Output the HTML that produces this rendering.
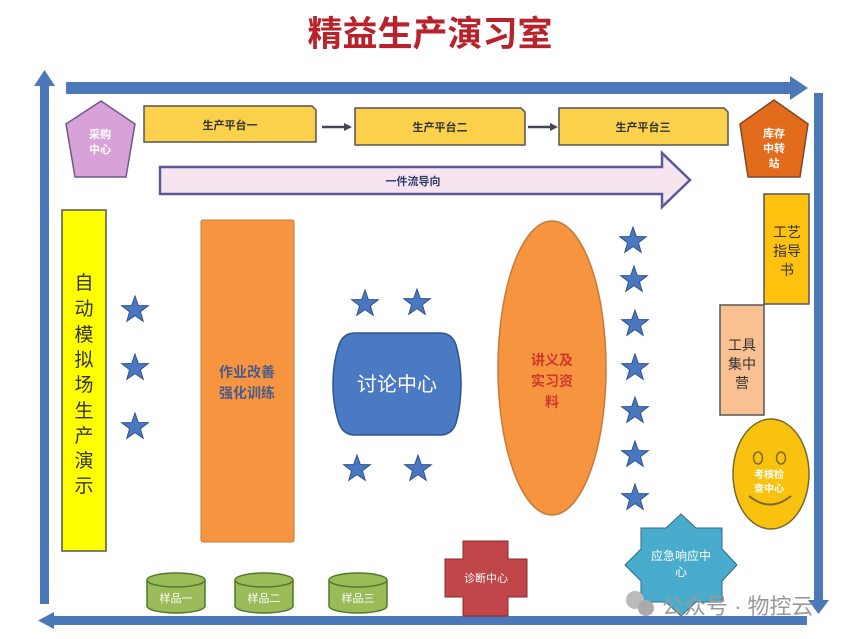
<!DOCTYPE html>
<html><head><meta charset="utf-8"><style>
html,body{margin:0;padding:0;background:#fff;}
svg{display:block;font-family:"Liberation Sans","Noto Sans CJK SC",sans-serif;}
</style></head><body>
<svg width="864" height="639" viewBox="0 0 864 639" xmlns="http://www.w3.org/2000/svg">
<defs>
<polygon id="st" points="0,-14 3.3,-4.5 13.3,-4.3 5.4,1.7 8.2,11.3 0,5.6 -8.2,11.3 -5.4,1.7 -13.3,-4.3 -3.3,-4.5" fill="#4a78c0" stroke="#2f528f" stroke-width="1"/>
</defs>
<text x="430" y="46" text-anchor="middle" font-size="35" font-weight="bold" fill="#b8232b">精益生产演习室</text>
<rect x="40" y="84" width="9" height="520" fill="#4a78b8"/>
<polygon points="34,86 44.5,70 55,86" fill="#4a78b8"/>
<rect x="66" y="82" width="726" height="12" fill="#4a78b8"/>
<polygon points="790,76 808,88 790,100" fill="#4a78b8"/>
<rect x="814" y="93" width="9" height="510" fill="#4a78b8"/>
<polygon points="808,600 818.5,614 829,600" fill="#4a78b8"/>
<rect x="52" y="616" width="755" height="9" fill="#4a78b8"/>
<polygon points="54,612 38,620.5 54,629" fill="#4a78b8"/>
<polygon points="101,101 135,124 126,177 75,177 66,124" fill="#d8a2d8" stroke="#6b5a8a" stroke-width="1.5"/>
<text x="100" y="138" text-anchor="middle" font-size="11" font-weight="bold" fill="#fff">采购</text>
<text x="100" y="153" text-anchor="middle" font-size="11" font-weight="bold" fill="#fff">中心</text>
<polygon points="774,100 808,124 800,177 748,177 740,124" fill="#e26b1c" stroke="#7a4a2a" stroke-width="1.5"/>
<text x="774" y="137" text-anchor="middle" font-size="11" font-weight="bold" fill="#fff">库存</text>
<text x="774" y="152" text-anchor="middle" font-size="11" font-weight="bold" fill="#fff">中转</text>
<text x="774" y="167" text-anchor="middle" font-size="11" font-weight="bold" fill="#fff">站</text>
<path d="M144,106 H312 L316,110 V142 H144 Z" fill="#fbd04a" stroke="#555" stroke-width="1.5"/>
<path d="M355,108 H521 L525,112 V145 H355 Z" fill="#fbd04a" stroke="#555" stroke-width="1.5"/>
<path d="M559,108 H724 L728,112 V145 H559 Z" fill="#fbd04a" stroke="#555" stroke-width="1.5"/>
<text x="230" y="129" text-anchor="middle" font-size="11" font-weight="bold" fill="#333">生产平台一</text>
<text x="440" y="131" text-anchor="middle" font-size="11" font-weight="bold" fill="#333">生产平台二</text>
<text x="643" y="131" text-anchor="middle" font-size="11" font-weight="bold" fill="#333">生产平台三</text>
<line x1="322" y1="127" x2="346" y2="127" stroke="#445" stroke-width="2.5"/><polygon points="344,123 352,127 344,131" fill="#445"/>
<line x1="528" y1="127" x2="552" y2="127" stroke="#445" stroke-width="2.5"/><polygon points="550,123 558,127 550,131" fill="#445"/>
<polygon points="160,167 662,167 662,153 690,180 662,207 662,194 160,194" fill="#f6e4ee" stroke="#5a5a9a" stroke-width="2.5"/>
<text x="413" y="185" text-anchor="middle" font-size="11" font-weight="bold" fill="#2d3a6a">一件流导向</text>
<rect x="62" y="210" width="44" height="341" fill="#ffff00" stroke="#555" stroke-width="1.5"/>
<g font-size="19" fill="#333" text-anchor="middle">
<text x="84" y="289">自</text><text x="84" y="315">动</text><text x="84" y="341">模</text><text x="84" y="366">拟</text><text x="84" y="391">场</text><text x="84" y="417">生</text><text x="84" y="442">产</text><text x="84" y="467">演</text><text x="84" y="492">示</text>
</g>
<use href="#st" x="135" y="310"/><use href="#st" x="135" y="368"/><use href="#st" x="135" y="427"/>
<rect x="201" y="220" width="93" height="322" rx="2" fill="#f79440" stroke="#c47a3a" stroke-width="1"/>
<text x="247" y="377" text-anchor="middle" font-size="14" font-weight="bold" fill="#4a5a8a">作业改善</text>
<text x="247" y="398" text-anchor="middle" font-size="14" font-weight="bold" fill="#4a5a8a">强化训练</text>
<use href="#st" x="365" y="304"/><use href="#st" x="417" y="303"/>
<use href="#st" x="357" y="469"/><use href="#st" x="418" y="469"/>
<path d="M355,333 H440 Q452,333 456,345 Q461,362 461,384 Q461,406 456,423 Q452,435 440,435 H355 Q343,435 339,423 Q333,406 333,384 Q333,362 339,345 Q343,333 355,333 Z" fill="#4a7ac4" stroke="#2f528f" stroke-width="1.5"/>
<text x="397" y="391" text-anchor="middle" font-size="20" fill="#fff">讨论中心</text>
<ellipse cx="552" cy="368" rx="54" ry="147" fill="#f79440" stroke="#c47a3a" stroke-width="1.5"/>
<g font-size="14" font-weight="bold" fill="#d0382a" text-anchor="middle">
<text x="552" y="365">讲义及</text><text x="552" y="386">实习资</text><text x="552" y="407">料</text></g>
<use href="#st" x="633" y="241"/><use href="#st" x="634" y="280"/><use href="#st" x="635" y="324"/><use href="#st" x="635" y="368"/><use href="#st" x="635" y="411"/><use href="#st" x="635" y="455"/><use href="#st" x="635" y="498"/>
<rect x="764" y="194" width="45" height="110" fill="#ffc20e" stroke="#555" stroke-width="1.5"/>
<g font-size="14" fill="#333" text-anchor="middle"><text x="787" y="237">工艺</text><text x="787" y="256">指导</text><text x="787" y="275">书</text></g>
<rect x="720" y="305" width="44" height="110" fill="#f9c092" stroke="#555" stroke-width="1.5"/>
<g font-size="14" fill="#333" text-anchor="middle"><text x="742" y="350">工具</text><text x="742" y="369">集中</text><text x="742" y="388">营</text></g>
<ellipse cx="771" cy="474" rx="38" ry="55" fill="#f9c20f" stroke="#7a6a2a" stroke-width="1.5"/>
<ellipse cx="758" cy="458" rx="4.5" ry="6" fill="none" stroke="#7a6a2a" stroke-width="1.5"/>
<ellipse cx="781" cy="458" rx="4.5" ry="6" fill="none" stroke="#7a6a2a" stroke-width="1.5"/>
<path d="M749,496 Q770,513 791,496" fill="none" stroke="#7a6a2a" stroke-width="2"/>
<text x="769" y="478" text-anchor="middle" font-size="10" font-weight="bold" fill="#fff">考核检</text>
<text x="769" y="492" text-anchor="middle" font-size="10" font-weight="bold" fill="#fff">查中心</text>
<path d="M463,541 H508 V559 H527 V597 H508 V616 H463 V597 H445 V559 H463 Z" fill="#c0464a" stroke="#8a2a2a" stroke-width="1"/>
<text x="486" y="582" text-anchor="middle" font-size="11" fill="#fff">诊断中心</text>
<polygon points="681,514 696,528 722,528 722,549 737,565 722,581 722,602 696,602 681,616 666,602 641,602 641,581 625,565 641,549 641,528 666,528" fill="#4aaccc" stroke="#2a6a8a" stroke-width="1"/>
<text x="681" y="560" text-anchor="middle" font-size="12" fill="#fff">应急响应中</text>
<text x="681" y="576" text-anchor="middle" font-size="12" fill="#fff">心</text>
<g fill="#9bbb59" stroke="#4f7a2a" stroke-width="1.5">
<path d="M147,580 V606 A29,7 0 0 0 205,606 V580"/><ellipse cx="176" cy="580" rx="29" ry="7"/>
<path d="M235,580 V606 A29,7 0 0 0 293,606 V580"/><ellipse cx="264" cy="580" rx="29" ry="7"/>
<path d="M329,580 V606 A29,7 0 0 0 387,606 V580"/><ellipse cx="358" cy="580" rx="29" ry="7"/>
</g>
<g font-size="11" fill="#fff" text-anchor="middle"><text x="176" y="602">样品一</text><text x="264" y="602">样品二</text><text x="358" y="602">样品三</text></g>
<circle cx="635" cy="600" r="9" fill="#bbb"/><circle cx="646" cy="608" r="8" fill="#aaa"/>
<text x="662" y="614" font-size="22" fill="#9a9a9a">公众号 · 物控云</text>
</svg>
</body></html>
